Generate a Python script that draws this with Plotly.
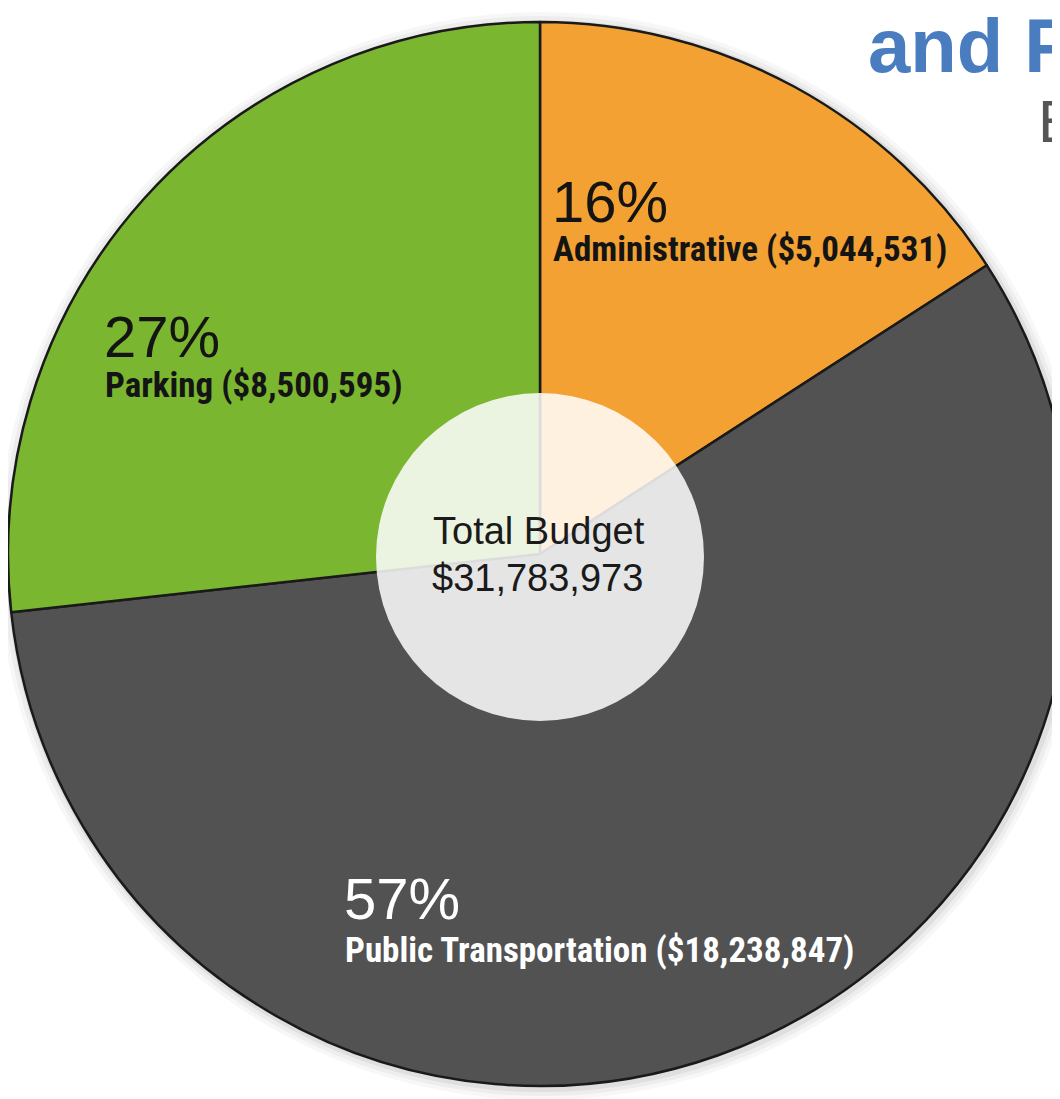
import plotly.graph_objects as go

# ---- data ----
categories = ["Administrative", "Public Transportation", "Parking"]
amounts = [5044531, 18238847, 8500595]
percent_labels = ["16%", "57%", "27%"]
total_label = "$31,783,973"
slice_colors = ["#F3A133", "#525252", "#7BB631"]

# ---- layout geometry (pixels, in screenshot coordinates) ----
W, H = 1090, 1099
OFF = 8  # page body margin
CX, CY, R = 540, 554, 532


def px(x):
    return (x - OFF) / W


def py(y):
    return 1 - (y - OFF) / H


fig = go.Figure(
    go.Pie(
        labels=categories,
        values=amounts,
        sort=False,
        direction="clockwise",
        rotation=0,
        textinfo="none",
        hoverinfo="label+value+percent",
        marker=dict(colors=slice_colors, line=dict(color="#1a1a1a", width=2.5)),
        domain=dict(x=[max(0, px(CX - R)), px(CX + R)], y=[py(CY + R), py(CY - R)]),
        showlegend=False,
    )
)

# soft shadow ring behind the pie
for extra, alpha in [(12, 0.03), (8, 0.04), (4, 0.06)]:
    fig.add_shape(
        type="circle", xref="paper", yref="paper", layer="below",
        x0=px(CX - R - extra + 2), x1=px(CX + R + extra + 2),
        y0=py(CY + R + extra + 2), y1=py(CY - R - extra + 2),
        fillcolor="rgba(0,0,0,%s)" % alpha, line=dict(width=0),
    )

# translucent centre disc
HR = 164
fig.add_shape(
    type="circle", xref="paper", yref="paper",
    x0=px(CX - HR), x1=px(CX + HR), y0=py(557 + HR), y1=py(557 - HR),
    fillcolor="rgba(255,255,255,0.85)", line=dict(width=0),
)

PCT_FONT = "Liberation Sans, Arial, sans-serif"
LAB_FONT = "Roboto Condensed, Liberation Sans, sans-serif"


def money(v):
    return "${:,}".format(v)


label_pos = {
    "Administrative": dict(x=553, ypct=201, ylab=250, color="#141414"),
    "Public Transportation": dict(x=345, ypct=899, ylab=950, color="#ffffff"),
    "Parking": dict(x=105, ypct=336, ylab=386, color="#141414"),
}

for cat, amt, pct in zip(categories, amounts, percent_labels):
    p = label_pos[cat]
    fig.add_annotation(
        x=px(p["x"] - 3), y=py(p["ypct"]), xref="paper", yref="paper",
        xanchor="left", yanchor="middle", showarrow=False, text=pct,
        font=dict(family=PCT_FONT, size=58, color=p["color"]),
    )
    fig.add_annotation(
        x=px(p["x"] - 2), y=py(p["ylab"]), xref="paper", yref="paper",
        xanchor="left", yanchor="middle", showarrow=False,
        text="<b>%s (%s)</b>" % (cat, money(amt)),
        font=dict(family=LAB_FONT, size=35, color=p["color"]),
    )

# centre text
fig.add_annotation(
    x=px(539), y=py(531), xref="paper", yref="paper", showarrow=False,
    text="Total Budget", font=dict(family=PCT_FONT, size=38, color="#1a1a1a"),
)
fig.add_annotation(
    x=px(537), y=py(578), xref="paper", yref="paper", showarrow=False,
    text=total_label, font=dict(family=PCT_FONT, size=38, color="#1a1a1a"),
)

# cropped page title fragments
fig.add_annotation(
    x=px(866), y=py(46), xref="paper", yref="paper", xanchor="left", yanchor="middle",
    showarrow=False, text="<b>and P</b>",
    font=dict(family=PCT_FONT, size=76, color="#4A7DBF"),
)
fig.add_annotation(
    x=px(1036), y=py(122), xref="paper", yref="paper", xanchor="left", yanchor="middle",
    showarrow=False, text="E",
    font=dict(family=PCT_FONT, size=60, color="#555555"),
)

fig.update_layout(
    width=W, height=H,
    margin=dict(l=0, r=0, t=0, b=0),
    paper_bgcolor="white", plot_bgcolor="white",
)

fig.write_html("out.html")
